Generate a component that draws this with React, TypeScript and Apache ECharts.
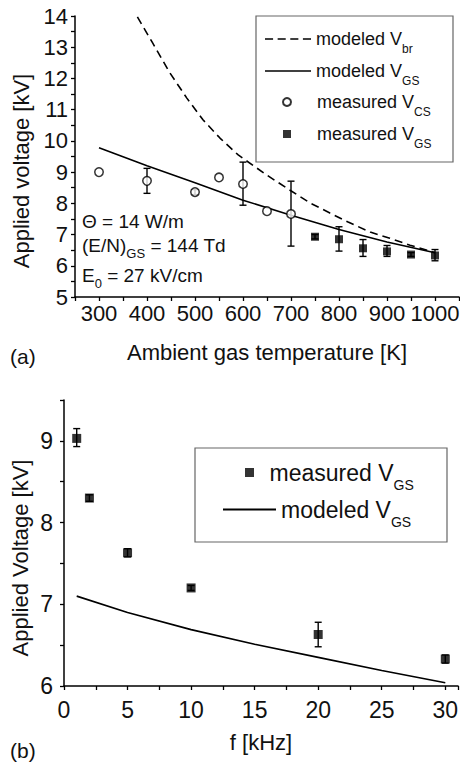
import React, { useEffect, useRef } from "react";
import * as echarts from "echarts";

const FONT = '"Liberation Sans", Arial, Helvetica, sans-serif';
const INK = "#111";

// ---- Panel (a): applied voltage vs ambient gas temperature ----
const brTemperature = [380, 412, 448, 483, 517, 552, 590, 650, 698, 740, 781, 819, 865, 906, 948, 1000];
const brVoltage = [13.97, 13.13, 12.17, 11.37, 10.67, 10.09, 9.55, 8.9, 8.42, 8.01, 7.69, 7.4, 7.08, 6.88, 6.66, 6.42];

const gsModelTemperature = [300, 400, 500, 600, 700, 800, 900, 1000];
const gsModelVoltage = [9.78, 9.2, 8.66, 8.1, 7.62, 7.16, 6.76, 6.42];

const csTemperature = [300, 400, 500, 550, 600, 650, 700];
const csVoltage = [9.0, 8.72, 8.36, 8.83, 8.62, 7.75, 7.66];
const csLow = [null, 8.32, 8.28, null, 7.94, null, 6.63];
const csHigh = [null, 9.12, 8.44, null, 9.32, null, 8.71];

const gsTemperature = [750, 800, 850, 900, 950, 1000];
const gsVoltage = [6.93, 6.85, 6.56, 6.46, 6.36, 6.33];
const gsLow = [6.86, 6.47, 6.3, 6.3, 6.3, 6.16];
const gsHigh = [7.0, 7.25, 6.84, 6.65, 6.42, 6.52];

const temperatureTickLabels = [300, 400, 500, 600, 700, 800, 900, 1000];
const voltageTickLabelsA = [5, 6, 7, 8, 9, 10, 11, 12, 13, 14];

// ---- Panel (b): applied voltage vs frequency ----
const freqMeasured = [1, 2, 5, 10, 20, 30];
const freqVoltage = [9.03, 8.3, 7.63, 7.2, 6.63, 6.33];
const freqLow = [8.93, 8.26, 7.58, 7.17, 6.48, 6.28];
const freqHigh = [9.15, 8.34, 7.68, 7.23, 6.78, 6.38];

const freqModel = [1, 5, 10, 15, 20, 25, 30];
const freqModelVoltage = [7.1, 6.9, 6.69, 6.51, 6.35, 6.19, 6.04];

const freqTickLabels = [0, 5, 10, 15, 20, 25, 30];
const voltageTickLabelsB = [6, 7, 8, 9];

// ---- helpers ----
const zip = (xs: number[], ys: number[]) => xs.map((x, i) => [x, ys[i]]);
const errData = (xs: number[], lo: (number | null)[], hi: (number | null)[]) =>
  xs.map((x, i) => [x, lo[i], hi[i]]).filter((d) => d[1] != null && d[2] != null);

const errorBarItem = (params: any, api: any) => {
  const x = api.value(0);
  const lo = api.value(1);
  const hi = api.value(2);
  const a = api.coord([x, hi]);
  const b = api.coord([x, lo]);
  const w = 3.5;
  const style = { stroke: "#000", lineWidth: 1.4, fill: "none" };
  return {
    type: "group",
    children: [
      { type: "line", shape: { x1: a[0], y1: a[1], x2: b[0], y2: b[1] }, style },
      { type: "line", shape: { x1: a[0] - w, y1: a[1], x2: a[0] + w, y2: a[1] }, style },
      { type: "line", shape: { x1: b[0] - w, y1: b[1], x2: b[0] + w, y2: b[1] }, style },
    ],
  };
};

const subFmt = (name: string) => {
  const m = name.match(/^(.*V)_(\w+)$/);
  return m ? `{m|${m[1]}}{s|${m[2]}}` : name;
};

const DASH_ICON = "path://M0,0h8v1.6h-8zM12.5,0h8v1.6h-8zM25,0h8v1.6h-8zM37.5,0h8v1.6h-8z";
const SOLID_ICON = "path://M0,0h46v1.6h-46z";
const SQUARE_ICON = "path://M0,0h8v8h-8z";

const axisLine = { show: true, onZero: false, lineStyle: { color: "#000", width: 1.5 } };
const axisTick = { show: true, length: 4, lineStyle: { color: "#000", width: 1.3 } };
const labelStyle = { color: INK, fontFamily: FONT, hideOverlap: false, showMinLabel: true, showMaxLabel: true };
const nameStyle = { color: INK, fontFamily: FONT, fontSize: 22 };

const legendA = (name: string, icon: string, left: number, top: number, w: number, h: number) => ({
  show: true,
  left,
  top,
  padding: 0,
  itemGap: 0,
  itemWidth: w,
  itemHeight: h,
  selectedMode: false,
  symbolKeepAspect: true,
  formatter: subFmt,
  textStyle: {
    color: INK,
    fontFamily: FONT,
    fontSize: 18,
    rich: {
      m: { fontSize: 18, fontFamily: FONT, color: INK },
      s: { fontSize: 12, fontFamily: FONT, color: INK, padding: [20, 0, 0, 0] },
    },
  },
  data: [{ name, icon }],
});

const legendB = (name: string, icon: string, left: number, top: number, w: number, h: number) => ({
  show: true,
  left,
  top,
  padding: 0,
  itemGap: 0,
  itemWidth: w,
  itemHeight: h,
  selectedMode: false,
  symbolKeepAspect: true,
  formatter: subFmt,
  textStyle: {
    color: INK,
    fontFamily: FONT,
    fontSize: 23,
    rich: {
      m: { fontSize: 23, fontFamily: FONT, color: INK },
      s: { fontSize: 14, fontFamily: FONT, color: INK, padding: [24, 0, 0, 0] },
    },
  },
  data: [{ name, icon }],
});

const annoRich = {
  m: { fontSize: 19, fontFamily: FONT, color: INK },
  s: { fontSize: 13, fontFamily: FONT, color: INK, padding: [17, 0, 0, 0] },
};

const option: any = {
  animation: false,
  backgroundColor: "#fff",
  grid: [
    { left: 75, top: 16, width: 384, height: 281, containLabel: false, outerBoundsMode: "none" },
    { left: 64, top: 400, width: 394, height: 286, containLabel: false, outerBoundsMode: "none" },
  ],
  xAxis: [
    {
      type: "value",
      gridIndex: 0,
      min: 250,
      max: 1050,
      interval: 50,
      axisLine,
      axisTick,
      splitLine: { show: false },
      axisLabel: {
        ...labelStyle,
        fontSize: 22,
        margin: 5,
        formatter: (v: number) => (temperatureTickLabels.includes(v) ? String(v) : ""),
      },
      name: "Ambient gas temperature [K]",
      nameLocation: "middle",
      nameGap: 44,
      nameTextStyle: nameStyle,
    },
    {
      type: "value",
      gridIndex: 1,
      min: 0,
      max: 31,
      interval: 2.5,
      axisLine,
      axisTick,
      splitLine: { show: false },
      axisLabel: {
        ...labelStyle,
        fontSize: 23,
        margin: 12,
        formatter: (v: number) => (freqTickLabels.includes(v) ? String(v) : ""),
      },
      name: "f [kHz]",
      nameLocation: "middle",
      nameGap: 45,
      nameTextStyle: nameStyle,
    },
  ],
  yAxis: [
    {
      type: "value",
      gridIndex: 0,
      min: 5,
      max: 14,
      interval: 0.5,
      axisLine,
      axisTick,
      splitLine: { show: false },
      axisLabel: {
        ...labelStyle,
        fontSize: 22,
        margin: 7,
        formatter: (v: number) => (voltageTickLabelsA.includes(v) ? String(v) : ""),
      },
    },
    {
      type: "value",
      gridIndex: 1,
      min: 6,
      max: 9.5,
      interval: 0.5,
      axisLine,
      axisTick,
      splitLine: { show: false },
      axisLabel: {
        ...labelStyle,
        fontSize: 23,
        margin: 11,
        formatter: (v: number) => (voltageTickLabelsB.includes(v) ? String(v) : ""),
      },
    },
  ],
  legend: [
    legendA("modeled V_br", DASH_ICON, 265, 30, 46, 2),
    legendA("modeled V_GS", SOLID_ICON, 265, 62, 46, 2),
    legendA("measured V_CS", "circle", 282, 93, 50, 8),
    legendA("measured V_GS", SQUARE_ICON, 283, 125, 50, 8),
    legendB("measured V_GS", SQUARE_ICON, 245, 461, 30, 9),
    legendB("modeled V_GS", SOLID_ICON, 223, 498, 53, 2),
  ],
  graphic: [
    { type: "rect", shape: { x: 256, y: 16, width: 197, height: 146 }, style: { fill: "none", stroke: "#666", lineWidth: 1.2 }, z: 1 },
    { type: "rect", shape: { x: 195, y: 448, width: 252, height: 94 }, style: { fill: "none", stroke: "#666", lineWidth: 1.2 }, z: 1 },
    { type: "text", x: 21, y: 171, rotation: Math.PI / 2, style: { text: "Applied voltage [kV]", align: "center", verticalAlign: "middle", fill: INK, fontFamily: FONT, fontSize: 22 } },
    { type: "text", x: 20, y: 558, rotation: Math.PI / 2, style: { text: "Applied Voltage [kV]", align: "center", verticalAlign: "middle", fill: INK, fontFamily: FONT, fontSize: 22 } },
    { type: "text", x: 82, y: 221, style: { text: "{m|Θ = 14 W/m}", rich: annoRich, verticalAlign: "middle", align: "left", fill: INK, fontFamily: FONT, fontSize: 19 } },
    { type: "text", x: 82, y: 245, style: { text: "{m|(E/N)}{s|GS}{m| = 144 Td}", rich: annoRich, verticalAlign: "middle", align: "left", fill: INK, fontFamily: FONT, fontSize: 19 } },
    { type: "text", x: 82, y: 275, style: { text: "{m|E}{s|0}{m| = 27 kV/cm}", rich: annoRich, verticalAlign: "middle", align: "left", fill: INK, fontFamily: FONT, fontSize: 19 } },
    { type: "text", x: 10, y: 356, style: { text: "(a)", verticalAlign: "middle", align: "left", fill: INK, fontFamily: FONT, fontSize: 21 } },
    { type: "text", x: 10, y: 750, style: { text: "(b)", verticalAlign: "middle", align: "left", fill: INK, fontFamily: FONT, fontSize: 21 } },
  ],
  series: [
    {
      name: "modeled V_br",
      type: "line",
      xAxisIndex: 0,
      yAxisIndex: 0,
      data: zip(brTemperature, brVoltage),
      symbol: "none",
      showSymbol: false,
      color: "#000",
      lineStyle: { color: "#000", width: 1.6, type: [8, 5] },
      z: 2,
    },
    {
      name: "modeled V_GS",
      type: "line",
      xAxisIndex: 0,
      yAxisIndex: 0,
      data: zip(gsModelTemperature, gsModelVoltage),
      symbol: "none",
      showSymbol: false,
      color: "#000",
      lineStyle: { color: "#000", width: 1.6 },
      z: 2,
    },
    {
      name: "error V_CS",
      type: "custom",
      xAxisIndex: 0,
      yAxisIndex: 0,
      renderItem: errorBarItem,
      encode: { x: 0, y: [1, 2] },
      data: errData(csTemperature, csLow, csHigh),
      z: 3,
    },
    {
      name: "measured V_CS",
      type: "scatter",
      xAxisIndex: 0,
      yAxisIndex: 0,
      data: zip(csTemperature, csVoltage),
      symbol: "circle",
      symbolSize: 8.5,
      color: "#000",
      itemStyle: { color: "#fff", borderColor: "#000", borderWidth: 1.5 },
      z: 4,
    },
    {
      name: "error V_GS",
      type: "custom",
      xAxisIndex: 0,
      yAxisIndex: 0,
      renderItem: errorBarItem,
      encode: { x: 0, y: [1, 2] },
      data: errData(gsTemperature, gsLow, gsHigh),
      z: 3,
    },
    {
      name: "measured V_GS",
      type: "scatter",
      xAxisIndex: 0,
      yAxisIndex: 0,
      data: zip(gsTemperature, gsVoltage),
      symbol: "rect",
      symbolSize: 8,
      color: "#000",
      itemStyle: { color: "#000" },
      z: 4,
    },
    {
      name: "modeled V_GS",
      type: "line",
      xAxisIndex: 1,
      yAxisIndex: 1,
      data: zip(freqModel, freqModelVoltage),
      symbol: "none",
      showSymbol: false,
      color: "#000",
      lineStyle: { color: "#000", width: 1.6 },
      z: 2,
    },
    {
      name: "error f",
      type: "custom",
      xAxisIndex: 1,
      yAxisIndex: 1,
      renderItem: errorBarItem,
      encode: { x: 0, y: [1, 2] },
      data: errData(freqMeasured, freqLow, freqHigh),
      z: 3,
    },
    {
      name: "measured V_GS",
      type: "scatter",
      xAxisIndex: 1,
      yAxisIndex: 1,
      data: zip(freqMeasured, freqVoltage),
      symbol: "rect",
      symbolSize: 9,
      color: "#000",
      itemStyle: { color: "#000" },
      z: 4,
    },
  ],
};

export default function App() {
  const ref = useRef<HTMLDivElement>(null);
  useEffect(() => {
    if (!ref.current) return;
    const chart = echarts.init(ref.current, null, { renderer: "svg" });
    chart.setOption(option);
    return () => chart.dispose();
  }, []);
  return (
    <div
      ref={ref}
      style={{ position: "fixed", left: 0, top: 0, width: 460, height: 764, background: "#fff" }}
    />
  );
}
